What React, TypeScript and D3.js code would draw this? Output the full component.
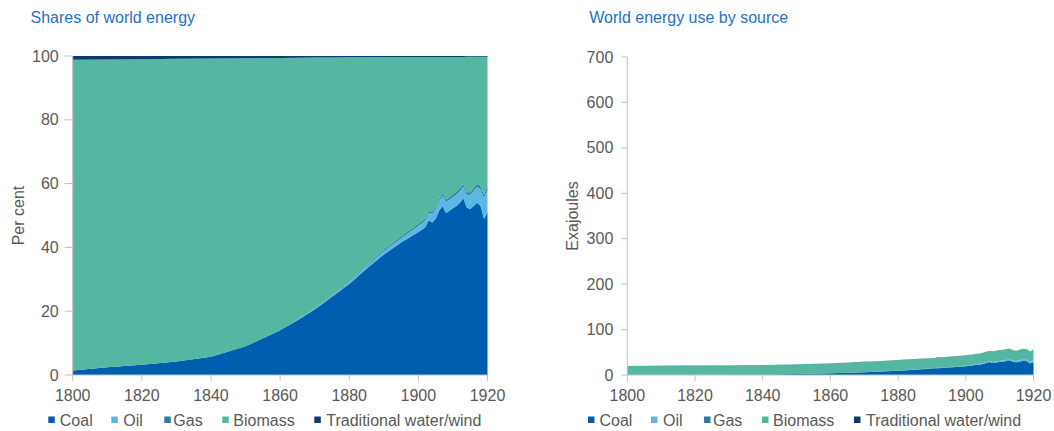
import React from "react";
import * as d3 from "d3";

// ---------- DATA ----------
const years = [1800, 1810, 1820, 1830, 1840, 1850, 1860, 1865, 1870, 1875, 1880, 1885, 1890, 1895,
  1900, 1901, 1902, 1903, 1904, 1905, 1906, 1907, 1908, 1909, 1910, 1911, 1912, 1913, 1914, 1915,
  1916, 1917, 1918, 1919, 1920];

const seriesNames = ["Coal", "Oil", "Gas", "Biomass", "Traditional water/wind"];

// Shares of world energy (per cent)
const coalShare = [1.4, 2.4, 3.2, 4.2, 5.7, 9.0, 14.0, 17.2, 20.5, 24.5, 28.5, 33.3, 37.8, 41.5,
  44.8, 45.5, 46.3, 48.5, 47.8, 49.0, 51.5, 53.0, 50.8, 51.5, 52.3, 53.0, 54.0, 55.5, 52.5, 52.0,
  53.0, 54.0, 53.0, 49.0, 51.0];
const oilShare = [0, 0, 0, 0, 0, 0, 0, 0.1, 0.2, 0.3, 0.5, 0.7, 1.0, 1.4,
  2.0, 2.1, 2.2, 2.3, 2.8, 3.0, 3.0, 3.2, 3.5, 3.5, 3.6, 3.6, 3.7, 3.6, 4.0, 4.5,
  4.8, 5.0, 5.2, 6.5, 7.0];
const gasShare = [0, 0, 0, 0, 0, 0, 0, 0, 0.05, 0.1, 0.2, 0.3, 0.5, 0.55,
  0.6, 0.6, 0.6, 0.65, 0.65, 0.65, 0.7, 0.7, 0.7, 0.7, 0.75, 0.75, 0.8, 0.8, 0.8, 0.8,
  0.85, 0.85, 0.9, 1.0, 1.0];
const biomassShare = [97.4, 96.5, 95.8, 94.9, 93.5, 90.3, 85.4, 82.15, 78.75, 74.65, 70.4, 65.32, 60.35, 56.22,
  52.3, 51.5, 50.6, 48.25, 48.45, 47.05, 44.5, 42.8, 44.7, 44.0, 43.05, 42.35, 41.2, 39.8, 42.45, 42.45,
  41.1, 39.9, 40.65, 43.25, 40.8];
const tradShare = [1.2, 1.1, 1.0, 0.9, 0.8, 0.7, 0.6, 0.55, 0.5, 0.45, 0.4, 0.38, 0.35, 0.33,
  0.3, 0.3, 0.3, 0.3, 0.3, 0.3, 0.3, 0.3, 0.3, 0.3, 0.3, 0.3, 0.3, 0.3, 0.25, 0.25,
  0.25, 0.25, 0.25, 0.25, 0.2];

// World energy use by source (exajoules)
const coalEJ = [0.28, 0.49, 0.67, 0.9, 1.27, 2.14, 3.64, 4.73, 5.95, 7.55, 9.35, 11.66, 14.18, 16.6,
  19.49, 20.25, 20.84, 22.8, 22.71, 24.01, 26.27, 28.36, 26.67, 27.55, 28.77, 29.42, 30.78, 32.47, 28.61, 27.82,
  29.68, 31.32, 30.48, 25.48, 28.82];
const oilEJ = [0, 0, 0, 0, 0, 0, 0, 0.03, 0.06, 0.09, 0.16, 0.25, 0.38, 0.56,
  0.87, 0.93, 0.99, 1.08, 1.33, 1.47, 1.53, 1.71, 1.84, 1.87, 1.98, 2.0, 2.11, 2.11, 2.18, 2.41,
  2.69, 2.9, 2.99, 3.38, 3.96];
const gasEJ = [0, 0, 0, 0, 0, 0, 0, 0, 0.01, 0.03, 0.07, 0.11, 0.19, 0.22,
  0.26, 0.27, 0.27, 0.31, 0.31, 0.32, 0.36, 0.37, 0.37, 0.37, 0.41, 0.42, 0.46, 0.47, 0.44, 0.43,
  0.48, 0.49, 0.52, 0.52, 0.57];
const biomassEJ = [19.48, 19.59, 19.92, 20.31, 20.76, 21.49, 22.2, 22.59, 22.84, 22.99, 23.09, 22.86, 22.63, 22.49,
  22.75, 22.92, 22.77, 22.68, 23.01, 23.05, 22.7, 22.9, 23.47, 23.54, 23.68, 23.5, 23.48, 23.28, 23.14, 22.71,
  23.02, 23.14, 23.37, 22.49, 23.05];
const tradEJ = [0.24, 0.22, 0.21, 0.19, 0.18, 0.17, 0.16, 0.15, 0.15, 0.14, 0.13, 0.13, 0.13, 0.13,
  0.13, 0.13, 0.14, 0.14, 0.14, 0.15, 0.15, 0.16, 0.16, 0.16, 0.17, 0.17, 0.17, 0.18, 0.14, 0.13,
  0.14, 0.15, 0.14, 0.13, 0.11];

const xTicks = [1800, 1820, 1840, 1860, 1880, 1900, 1920];
const yTicksShare = [0, 20, 40, 60, 80, 100];
const yTicksEJ = [0, 100, 200, 300, 400, 500, 600, 700];

// ---------- STYLE ----------
const COLORS = ["#005EB0", "#5CB7E4", "#2A7FA0", "#53B7A2", "#0B3A6F"];
const FONT = "'Liberation Sans', Arial, sans-serif";
const TEXT = "#595959";
const AXIS = "#BFBFBF";
const TITLE = "#1F70C4";

type Panel = {
  title: string;
  titleX: number;
  yLabel: string;
  yLabelX: number;
  x0: number;
  x1: number;
  yTop: number;
  yBottom: number;
  yMax: number;
  yTicks: number[];
  series: number[][];
  legendX: number;
  tickLen: number;
};

function ChartPanel({ p }: { p: Panel }) {
  const x = d3.scaleLinear().domain([1800, 1920]).range([p.x0, p.x1]);
  const y = d3.scaleLinear().domain([0, p.yMax]).range([p.yBottom, p.yTop]);
  const rows = years.map((yr, i) => {
    const r: any = { year: yr };
    seriesNames.forEach((n, k) => (r[n] = p.series[k][i]));
    return r;
  });
  const stack = d3.stack<any>().keys(seriesNames)(rows);
  const area = d3
    .area<any>()
    .x((d) => x(d.data.year))
    .y0((d) => y(d[0]))
    .y1((d) => y(d[1]));

  const legendOffsets = [0, 63, 116, 174, 266];
  const legendTextOffsets = [11.5, 75, 125, 185, 278];

  return (
    <g>
      <text x={p.titleX} y={23} fill={TITLE} fontSize={16} fontFamily={FONT}>
        {p.title}
      </text>
      {stack.map((s, k) => (
        <path key={s.key} d={area(s) || ""} fill={COLORS[k]} />
      ))}
      {/* y axis */}
      <line x1={p.x0} x2={p.x0} y1={p.yTop} y2={p.yBottom} stroke={AXIS} strokeWidth={1} />
      {p.yTicks.map((t) => (
        <g key={t}>
          <line x1={p.x0 - p.tickLen} x2={p.x0} y1={y(t)} y2={y(t)} stroke={AXIS} />
          <text
            x={p.x0 - 14}
            y={y(t) + 5.5}
            textAnchor="end"
            fill={TEXT}
            fontSize={16}
            fontFamily={FONT}
          >
            {t}
          </text>
        </g>
      ))}
      {/* x axis */}
      <line x1={p.x0} x2={p.x1} y1={p.yBottom} y2={p.yBottom} stroke={AXIS} strokeWidth={1} />
      {xTicks.map((t) => (
        <g key={t}>
          <line x1={x(t)} x2={x(t)} y1={p.yBottom} y2={p.yBottom + 6} stroke={AXIS} />
          <text
            x={x(t)}
            y={p.yBottom + 25.5}
            textAnchor="middle"
            fill={TEXT}
            fontSize={16}
            fontFamily={FONT}
          >
            {t}
          </text>
        </g>
      ))}
      <text
        transform={`translate(${p.yLabelX},${(p.yTop + p.yBottom) / 2}) rotate(-90)`}
        textAnchor="middle"
        fill={TEXT}
        fontSize={16}
        fontFamily={FONT}
      >
        {p.yLabel}
      </text>
      {seriesNames.map((n, k) => (
        <g key={n}>
          <rect
            x={p.legendX + legendOffsets[k]}
            y={416.5}
            width={6.5}
            height={6.5}
            fill={COLORS[k]}
          />
          <text
            x={p.legendX + legendTextOffsets[k]}
            y={425.5}
            fill={TEXT}
            fontSize={16}
            fontFamily={FONT}
          >
            {n}
          </text>
        </g>
      ))}
    </g>
  );
}

export default function App() {
  const left: Panel = {
    title: "Shares of world energy",
    titleX: 30.5,
    yLabel: "Per cent",
    yLabelX: 23.5,
    x0: 72.7,
    x1: 487.5,
    yTop: 56,
    yBottom: 375,
    yMax: 100,
    yTicks: yTicksShare,
    series: [coalShare, oilShare, gasShare, biomassShare, tradShare],
    legendX: 48.3,
    tickLen: 8,
  };
  const right: Panel = {
    title: "World energy use by source",
    titleX: 589.3,
    yLabel: "Exajoules",
    yLabelX: 577.5,
    x0: 627.3,
    x1: 1033.5,
    yTop: 57,
    yBottom: 375,
    yMax: 700,
    yTicks: yTicksEJ,
    series: [coalEJ, oilEJ, gasEJ, biomassEJ, tradEJ],
    legendX: 588,
    tickLen: 6,
  };
  return (
    <svg
      width={1054}
      height={431}
      style={{ position: "absolute", left: 0, top: 0, background: "#fff" }}
    >
      <ChartPanel p={left} />
      <ChartPanel p={right} />
    </svg>
  );
}
